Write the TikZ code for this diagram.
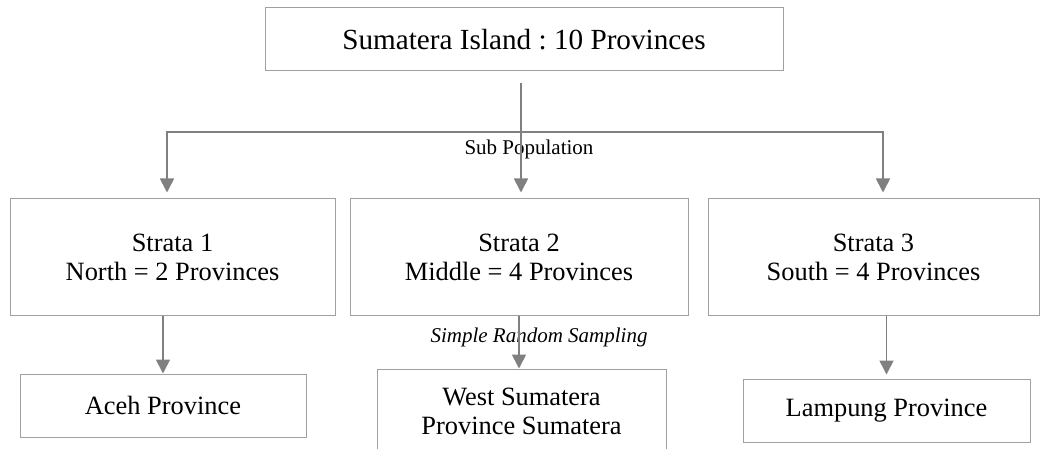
\documentclass[tikz,border=0pt]{standalone}
\usepackage{fontspec}
\setmainfont{Liberation Serif}
\usetikzlibrary{arrows.meta}
\definecolor{boxgray}{RGB}{160,160,160}
\definecolor{linkgray}{RGB}{128,128,128}
\frenchspacing
\begin{document}
\begin{tikzpicture}[x=0.5pt,y=-0.5pt,>={Triangle[width=7pt,length=7pt]},
	box/.style={draw=boxgray,line width=0.5pt,inner sep=0pt,align=center,font=\fontsize{13.2}{14.6}\selectfont},
	link/.style={draw=linkgray,line width=0.85pt},
	note/.style={inner sep=0pt,font=\fontsize{10.5}{12}\selectfont}]
	\clip (0,0) rectangle (1040,449);
	\node[box,minimum width=259pt,minimum height=31.5pt,font=\fontsize{14.6}{17}\selectfont] (top) at (524,39.5) {Sumatera Island : 10 Provinces};
	\node[box,minimum width=162.5pt,minimum height=58pt] (s1) at (172.5,257) {Strata 1\\North = 2 Provinces};
	\node[box,minimum width=169pt,minimum height=58pt] (s2) at (519,257) {Strata 2\\Middle = 4 Provinces};
	\node[box,minimum width=165.5pt,minimum height=58pt] (s3) at (873.5,257) {Strata 3\\South = 4 Provinces};
	\node[box,minimum width=143pt,minimum height=31.5pt] (aceh) at (163,405.5) {Aceh Province};
	\node[box,minimum width=144.5pt,minimum height=42pt] (west) at (521.5,411) {West Sumatera\\Province Sumatera};
	\node[box,minimum width=143.5pt,minimum height=31.5pt] (lampung) at (886.5,410.5) {Lampung Province};
	\node[note] (sub) at (529,149) {Sub Population};
	\node[note,font=\itshape\fontsize{10.5}{12}\selectfont] (srs) at (539,337) {Simple Random Sampling};
	\coordinate (barL) at (167,132);
	\coordinate (barR) at (883,132);
	\draw[link,<->,shorten <=3pt,shorten >=3pt] (barL |- s1.north) -- (barL) -- (barR) -- (barR |- s3.north);
	\draw[link,->,shorten <=6pt,shorten >=3pt] ([xshift=-1.5pt]top.south) -- ([xshift=-1.5pt]top.south |- s2.north);
	\draw[link,->] (aceh.north |- s1.south) -- (aceh.north);
	\draw[link,->] ([xshift=-1.25pt]west.north |- s2.south) -- ([xshift=-1.25pt]west.north);
	\draw[link,->,shorten >=2pt] (lampung.north |- s3.south) -- (lampung.north);
\end{tikzpicture}
\end{document}
